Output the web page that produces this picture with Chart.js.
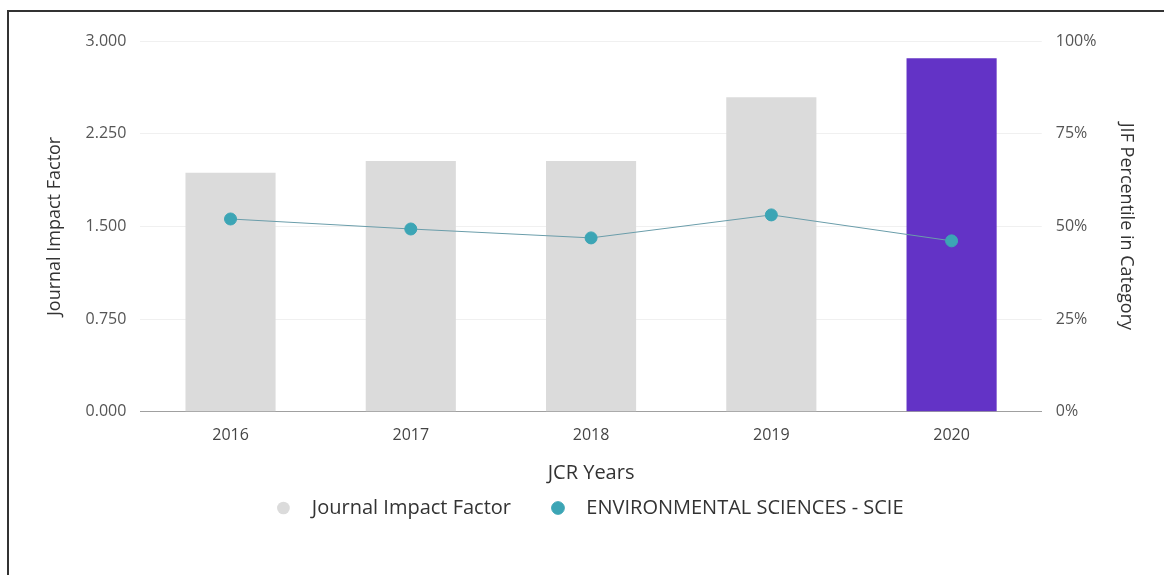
<!DOCTYPE html>
<html>
<head>
<meta charset="utf-8">
<script src="https://cdn.jsdelivr.net/npm/chart.js@4/dist/chart.umd.min.js"></script>
<style>
  html, body { margin: 0; padding: 0; background: #fff; overflow: hidden; }
  .frame {
    position: absolute; left: 7px; top: 10px; width: 1170px; height: 580px;
    border-left: 2px solid #333; border-top: 2px solid #333;
  }
  .box { position: absolute; left: 0; top: 0; width: 1164px; height: 575px; }
</style>
</head>
<body>
<div class="frame"></div>
<div class="box"><canvas id="chart"></canvas></div>
<script>
// JCR years along the bottom
const years = ["2016", "2017", "2018", "2019", "2020"]
// Journal Impact Factor per year (left axis)
const impactFactor = [1.935, 2.03, 2.03, 2.545, 2.86]
// JIF percentile in category (right axis, %)
const percentile = [52.0, 49.3, 46.9, 53.1, 46.1]
// tick values
const jifTicks = [0, 0.75, 1.5, 2.25, 3]
const pctTicks = [0, 25, 50, 75, 100]

const barColors = years.map((y, i) => i === years.length - 1 ? "#6333c6" : "#dbdbdb")
const font = "'Open Sans', 'Noto Sans', sans-serif"

const ctx = document.getElementById("chart")

new Chart(ctx, {
  data: {
    labels: years,
    datasets: [
      {
        type: "line",
        label: "ENVIRONMENTAL SCIENCES - SCIE",
        data: percentile,
        yAxisID: "y1",
        borderColor: "#6a9daa",
        borderWidth: 1,
        backgroundColor: "#3ca5b5",
        pointBackgroundColor: "#3ca5b5",
        pointBorderColor: "#3ca5b5",
        pointRadius: 6,
        pointStyle: "circle",
        tension: 0,
        order: 0
      },
      {
        type: "bar",
        label: "Journal Impact Factor",
        data: impactFactor,
        yAxisID: "y",
        backgroundColor: barColors,
        barPercentage: 0.5,
        categoryPercentage: 1,
        pointStyle: "circle",
        order: 1
      }
    ]
  },
  options: {
    responsive: true,
    maintainAspectRatio: false,
    animation: false,
    layout: { padding: { left: 20, right: 5, top: 41, bottom: 47 } },
    plugins: {
      tooltip: { enabled: false },
      legend: {
        position: "bottom",
        labels: {
          usePointStyle: true,
          boxWidth: 16,
          boxHeight: 9,
          padding: 13,
          color: "#333",
          font: { family: font, size: 20 },
          // bar first, then line; spaces give the wide gaps of the original legend
          generateLabels: chart => {
            const items = Chart.defaults.plugins.legend.labels.generateLabels(chart).reverse()
            items.forEach((it, i) => {
              it.text = "  " + it.text + (i === 0 ? "     " : "")
            })
            return items
          }
        }
      }
    },
    scales: {
      x: {
        grid: { display: false },
        border: { color: "#a0a0a0" },
        ticks: { color: "#444", font: { family: font, size: 16 }, padding: 6 },
        title: { display: true, text: "JCR Years", color: "#333", font: { family: font, size: 20 }, padding: { top: 10, bottom: 0 } }
      },
      y: {
        position: "left",
        min: 0,
        max: 3,
        afterBuildTicks: axis => { axis.ticks = jifTicks.map(v => ({ value: v })) },
        grid: { color: "#f0f0f0", drawTicks: false },
        border: { display: false },
        ticks: {
          color: "#555",
          font: { family: font, size: 16 },
          padding: 14,
          callback: v => Number(v).toFixed(3)
        },
        title: { display: true, text: "Journal Impact Factor", color: "#333", font: { family: font, size: 18 }, padding: { top: 24, bottom: 6 } }
      },
      y1: {
        position: "right",
        min: 0,
        max: 100,
        afterBuildTicks: axis => { axis.ticks = pctTicks.map(v => ({ value: v })) },
        grid: { display: false, drawTicks: false },
        border: { display: false },
        ticks: {
          color: "#555",
          font: { family: font, size: 16 },
          padding: 14,
          callback: v => v + "%"
        },
        title: { display: true, text: "JIF Percentile in Category", color: "#333", font: { family: font, size: 18 }, padding: { top: 22, bottom: 5 } }
      }
    }
  }
})
</script>
</body>
</html>
